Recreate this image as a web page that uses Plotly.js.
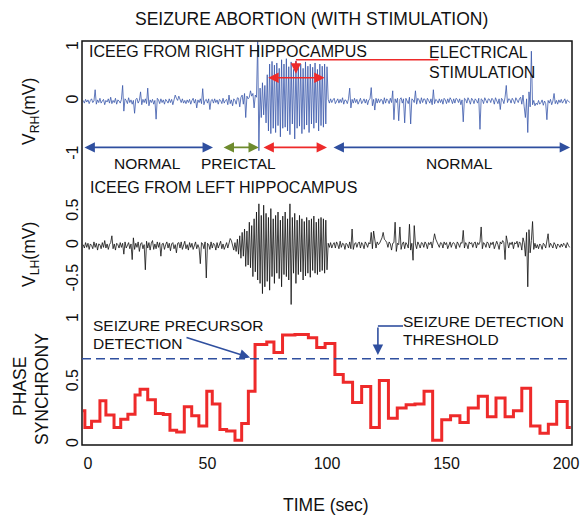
<!DOCTYPE html>
<html><head><meta charset="utf-8">
<script src="https://cdn.plot.ly/plotly-3.0.1.min.js"></script>
<style>html,body{margin:0;padding:0;background:#fff}#chart{width:581px;height:516px}</style>
</head><body><div id="chart"></div>
<script>
// ---- data ----
const sampleStart = -2, sampleStep = 0.5; // seconds
const vRH = [
0.02,-0.03,0.04,-0.01,0.03,-0.04,0.02,0.05,-0.02,0.01,
0.22,-0.05,0.03,-0.02,0.06,-0.03,0.01,0.04,-0.06,0.02,
-0.01,0.05,-0.03,0.08,-0.04,0.02,-0.02,0.06,-0.05,0.03,
0.01,-0.03,0.04,0.3,-0.18,0.05,0.02,-0.04,0.07,-0.02,
0.03,-0.05,0.02,-0.22,0.04,0.06,-0.03,0.02,0.18,-0.06,
0.04,-0.02,0.05,-0.04,0.25,-0.08,0.03,-0.02,0.04,-0.05,
0.02,-0.33,0.06,0.03,-0.04,0.05,-0.02,0.03,-0.05,0.04,
0.01,-0.03,0.05,-0.02,0.04,-0.06,0.03,0.12,0.06,0.02,
0.1,0.04,-0.02,0.05,-0.03,0.02,-0.04,0.03,-0.02,0.04,
-0.05,0.02,0.06,-0.03,0.04,-0.12,0.03,-0.02,0.05,-0.04,
0.24,-0.06,0.02,0.04,-0.03,0.05,-0.15,0.02,0.04,-0.03,
0.05,-0.02,0.03,-0.05,0.04,0.02,-0.04,0.06,-0.03,0.02,
0.04,-0.06,0.12,-0.04,0.03,-0.08,0.05,0.02,-0.05,0.07,
0.06,-0.1,0.08,0.12,-0.05,0.15,-0.3,0.1,0.05,0.08,
0.2,0.1,0.15,-0.12,0.12,0.08,1.12,-0.92,0.25,-0.3,
0.35,-0.25,0.3,-0.4,0.5,-0.55,0.7,-0.6,0.75,-0.5,
0.68,-0.58,0.72,-0.45,0.62,-0.66,0.78,-0.5,0.7,-0.48,
0.8,-0.55,0.65,-0.62,0.74,-0.42,0.6,-0.7,0.76,-0.5,
0.68,-0.46,0.7,-0.6,0.62,-0.52,0.74,-0.44,0.66,-0.58,
0.7,-0.42,0.64,-0.5,0.72,-0.4,0.6,-0.55,0.7,-0.45,
0.66,-0.48,0.7,-0.42,0.65,0.04,-0.03,0.05,-0.02,0.03,
0.06,-0.04,0.02,0.05,-0.03,0.04,-0.02,0.07,-0.05,0.03,
0.02,-0.04,0.05,0.25,-0.12,0.04,-0.03,0.06,-0.02,0.04,
-0.05,0.03,0.06,-0.04,0.02,0.05,-0.03,0.04,-0.06,0.03,
0.05,0.26,-0.08,0.04,-0.16,0.06,-0.03,0.05,-0.02,0.04,
0.03,-0.05,0.07,-0.03,0.05,0.02,-0.04,0.06,-0.02,0.2,
-0.34,0.05,-0.02,0.06,-0.36,0.04,0.07,-0.03,0.05,-0.4,
0.06,0.02,-0.04,0.08,-0.42,0.05,0.03,-0.02,0.2,-0.05,
0.06,0.03,-0.04,0.07,-0.02,0.05,0.04,-0.05,0.06,0.02,
-0.03,0.05,-0.06,0.22,-0.04,0.04,0.02,-0.03,0.05,-0.02,
0.04,-0.05,0.06,0.03,-0.04,0.05,-0.02,0.07,0.03,-0.04,
0.05,-0.03,0.06,0.04,-0.02,0.05,-0.06,0.03,-0.38,0.06,
0.04,-0.03,0.07,0.02,-0.05,0.06,0.03,-0.04,0.05,0.02,
-0.03,0.06,-0.52,0.05,0.03,-0.04,0.07,0.02,-0.03,0.05,
0.04,-0.02,0.06,0.03,-0.05,0.07,0.02,-0.04,0.05,-0.15,
0.06,0.03,-0.04,0.08,0.3,-0.02,0.05,0.04,-0.03,0.06,
0.02,-0.04,0.07,0.03,-0.02,0.05,0.08,-0.05,0.12,-0.1,
-0.3,0.05,-0.58,0.18,-0.1,0.94,-0.06,0.02,-0.08,-0.03,
-0.06,0.02,-0.05,-0.02,0.03,-0.07,0.01,-0.04,-0.34,0.02,
-0.03,0.04,-0.06,0.01,0.15,-0.04,0.02,-0.05,0.03,-0.02,
0.04,-0.03,0.02,0.05,-0.04,0.03,0.01,-0.02
];
const vLH = [
0.02,-0.03,0.05,-0.02,0.04,-0.05,0.03,0.01,-0.04,0.06,
-0.02,0.04,-0.06,0.03,0.02,-0.04,0.05,-0.02,0.08,-0.03,
0.03,-0.05,0.02,0.05,0.15,-0.04,0.03,-0.06,0.04,0.02,
-0.03,0.05,-0.02,0.04,-0.12,0.06,-0.03,0.02,0.05,-0.04,
0.03,-0.2,0.12,-0.05,0.04,-0.02,0.06,-0.08,0.03,0.05,
-0.04,0.02,-0.35,0.07,-0.03,0.05,-0.06,0.04,0.08,-0.05,
0.03,-0.04,0.06,-0.02,0.05,-0.15,0.03,0.04,-0.05,0.02,
0.06,-0.03,0.04,-0.07,0.03,0.05,-0.04,0.02,-0.1,0.04,
0.05,-0.03,0.06,-0.05,0.03,0.07,-0.04,0.02,-0.06,0.05,
-0.02,0.04,-0.05,0.03,0.06,-0.04,0.02,-0.03,-0.26,0.05,
0.03,-0.04,0.06,-0.47,0.04,0.02,-0.05,0.06,-0.03,0.04,
0.02,-0.06,0.05,-0.03,0.04,0.07,-0.04,0.03,-0.05,0.02,
0.05,-0.03,0.04,0.11,0.08,0.02,-0.06,0.05,-0.08,0.1,
-0.12,0.15,-0.18,0.2,-0.15,0.25,-0.3,0.22,-0.28,0.35,
-0.32,0.3,-0.45,0.4,-0.38,0.5,-0.5,0.62,-0.55,0.45,
-0.7,0.6,-0.6,0.48,-0.52,0.42,-0.65,0.55,-0.45,0.4,
-0.55,0.45,-0.4,0.5,-0.48,0.38,-0.6,0.44,-0.42,0.5,
-0.45,0.4,-0.5,0.62,-0.86,0.42,-0.4,0.48,-0.55,0.38,
-0.42,0.45,-0.38,0.4,-0.5,0.36,-0.44,0.42,-0.4,0.38,
-0.46,0.4,-0.36,0.44,-0.4,0.35,-0.42,0.4,-0.38,0.42,
-0.36,0.4,-0.4,0.38,-0.35,0.04,-0.02,0.05,-0.03,0.02,
0.05,-0.03,0.06,0.02,-0.04,0.07,-0.02,0.04,0.03,-0.05,
0.04,0.02,-0.03,0.06,-0.04,0.25,-0.05,0.03,0.05,-0.02,
0.04,0.06,-0.03,0.05,0.02,-0.04,0.06,0.03,-0.02,0.05,
0.03,0.2,-0.04,0.22,0.05,-0.03,0.06,0.02,0.04,0.07,
0.12,0.2,0.1,0.08,0.05,-0.02,0.06,0.03,-0.06,0.04,
0.05,0.35,-0.08,0.04,0.02,0.28,-0.05,0.03,0.06,-0.04,
0.05,0.02,-0.03,0.32,-0.06,0.04,-0.21,0.3,0.03,-0.04,
0.06,0.02,-0.03,0.05,0.04,-0.02,0.06,0.03,-0.04,0.05,
0.02,0.06,-0.03,0.08,0.18,0.1,0.06,0.03,-0.02,0.05,
0.04,-0.03,0.06,0.02,0.05,-0.04,0.03,0.06,-0.02,0.04,
0.05,0.02,-0.04,0.06,0.03,-0.02,0.05,0.04,0.23,-0.03,
0.05,0.02,-0.04,0.06,0.03,0.05,-0.02,0.04,0.06,-0.03,
0.05,0.02,0.06,0.28,-0.04,0.05,0.03,-0.02,0.06,0.04,
-0.03,0.05,0.02,0.06,-0.04,0.04,0.07,0.02,-0.05,0.06,
0.03,0.08,0.05,-0.2,0.15,0.06,-0.03,0.05,0.02,0.06,
-0.04,0.05,0.03,0.07,-0.02,0.06,0.04,-0.06,0.12,0.05,
-0.15,0.2,-0.6,0.24,-0.1,0.08,0.36,-0.05,0.04,-0.03,
0.02,-0.04,0.03,0.01,-0.05,0.04,0.02,-0.03,0.05,0.18,
-0.02,0.04,0.01,-0.03,0.05,0.02,-0.04,0.03,0.01,-0.02,
0.03,-0.01,0.04,0.02,-0.03,0.05,0.01,-0.02
];
// phase synchrony: window start times (s) and values
const psStart = [-2.1,-1.3,1.5,5.0,7.5,10.9,13.7,16.7,19.7,21.8,25.0,28.2,31.5,34.3,37.1,40.3,43.4,46.4,49.7,52.0,55.2,58.0,61.5,64.3,67.1,69.9,74.8,77.8,81.4,86.6,92.2,95.7,99.2,103.3,106.8,110.7,114.5,118.3,121.9,125.7,129.4,133.1,136.8,140.6,144.2,148.0,151.7,155.6,159.1,163.3,167.1,170.7,174.5,178.0,181.5,185.2,189.1,192.6,196.1,200.5];
const psEnd = 202;
const psValue = [0.274,0.14,0.19,0.355,0.24,0.14,0.207,0.247,0.40,0.446,0.363,0.253,0.245,0.118,0.105,0.306,0.234,0.153,0.43,0.328,0.124,0.113,0.038,0.172,0.43,0.804,0.825,0.74,0.879,0.884,0.857,0.78,0.812,0.565,0.503,0.341,0.468,0.14,0.516,0.215,0.296,0.323,0.328,0.43,0.038,0.202,0.234,0.18,0.296,0.39,0.226,0.376,0.226,0.274,0.454,0.153,0.094,0.167,0.349,0.14];
const threshold = 0.69;
const xTicks = [0,50,100,150,200];
const yTopTicks = [-1,0,1], yTopText = ['-1','0','1'];
const yMidTicks = [-0.5,0,0.5], yMidText = ['-0.5','0','0.5'];
const yBotTicks = [0,0.5,1], yBotText = ['0','0.5','1'];
const phases = [
  {label:'NORMAL', from:-2.1, to:52.3, color:'#2f4f9f', mid:24.7},
  {label:'PREICTAL', from:56.1, to:71.5, color:'#6e8b2e', mid:62.8},
  {label:'', from:72.8, to:100, color:'#ee2a2a', mid:86},
  {label:'NORMAL', from:102.1, to:201.7, color:'#2f4f9f', mid:155.6}
];

// ---- build ----
const tRH = vRH.map((_, i) => sampleStart + sampleStep * i);
const tLH = vLH.map((_, i) => sampleStart + sampleStep * i);
const FONT = 'Liberation Sans, Arial, Helvetica, sans-serif';
const BLUE = '#2f4f9f', RED = '#ee2a2a';

const traces = [
  {x: tRH, y: vRH, xaxis:'x', yaxis:'y3', mode:'lines', line:{color:'#3a58ab', width:0.8}, hoverinfo:'skip'},
  {x: tLH, y: vLH, xaxis:'x', yaxis:'y2', mode:'lines', line:{color:'#111', width:0.8}, hoverinfo:'skip'},
  {x: psStart.concat([psEnd]), y: psValue.concat([psValue[psValue.length-1]]), xaxis:'x', yaxis:'y',
   mode:'lines', line:{color:RED, width:3, shape:'hv'}, hoverinfo:'skip'}
];

const W = 490, H = 404, L = 82, T = 41;
const px = v => (v - L) / W;
const py = v => (T + H - v) / H;

const tickFont = {family: FONT, size: 16, color: '#111'};
const yCommon = {showgrid:false, zeroline:false, showline:false, ticks:'', tickangle:-90, tickfont:tickFont, fixedrange:true};

const annotations = [];
function txt(text, x, y, opts) {
  annotations.push(Object.assign({text, x, y, showarrow:false, xanchor:'center', yanchor:'middle',
    font:{family:FONT, size:15.5, color:'#111'}}, opts));
}
function arrow(x, y, ax, ay, yref, color, side) {
  annotations.push({x, y, ax, ay, xref:'x', yref, axref:'x', ayref:yref, text:'', showarrow:true,
    arrowhead:2, arrowsize:1.3, arrowwidth:1.6, arrowcolor:color, arrowside:side, standoff:0, startstandoff:0});
}
const big = {family:FONT, size:17.5, color:'#111'};
const mid = {family:FONT, size:16, color:'#111'};
// titles
txt('SEIZURE ABORTION (WITH STIMULATION)', px(311.5), py(19), {xref:'paper', yref:'paper', font:big});
txt('TIME (sec)', px(326), py(505), {xref:'paper', yref:'paper', font:big});
txt('V<sub>RH</sub>(mV)', px(30), py(112), {xref:'paper', yref:'paper', textangle:-90, font:big});
txt('V<sub>LH</sub>(mV)', px(30), py(255), {xref:'paper', yref:'paper', textangle:-90, font:big});
txt('PHASE', px(20), py(387), {xref:'paper', yref:'paper', textangle:-90, font:big});
txt('SYNCHRONY', px(42), py(389), {xref:'paper', yref:'paper', textangle:-90, font:big});
// panel texts
txt('ICEEG FROM RIGHT HIPPOCAMPUS', px(87), py(51.5), {xref:'paper', yref:'paper', xanchor:'left', font:mid});
txt('ICEEG FROM LEFT HIPPOCAMPUS', px(88), py(187.5), {xref:'paper', yref:'paper', xanchor:'left', font:mid});
txt('ELECTRICAL', px(427), py(52.5), {xref:'paper', yref:'paper', xanchor:'left', font:mid});
txt('STIMULATION', px(427), py(72.5), {xref:'paper', yref:'paper', xanchor:'left', font:mid});
txt('SEIZURE PRECURSOR', px(91), py(325), {xref:'paper', yref:'paper', xanchor:'left'});
txt('DETECTION', px(91), py(343), {xref:'paper', yref:'paper', xanchor:'left'});
txt('SEIZURE DETECTION', px(401), py(321), {xref:'paper', yref:'paper', xanchor:'left'});
txt('THRESHOLD', px(401), py(339), {xref:'paper', yref:'paper', xanchor:'left'});
// phase arrows
phases.forEach(p => {
  arrow(p.to, -0.858, p.from, -0.858, 'y3', p.color, 'end+start');
  if (p.label) txt(p.label, p.mid, -1.16, {xref:'x', yref:'y3'});
});
// stimulation arrows
arrow(99, 0.443, 74.8, 0.443, 'y3', RED, 'end+start');
arrow(87, 0.52, 87, 0.78, 'y3', RED, 'end');
// detection arrows
arrow(67.8, 0.70, 40.6, 0.863, 'y', BLUE, 'end');
arrow(121.3, 0.72, 121.3, 0.952, 'y', BLUE, 'end');

const shapes = [
  {type:'rect', xref:'paper', yref:'paper', x0:0, x1:1, y0:0, y1:1, line:{color:'#111', width:1.5}},
  {type:'line', xref:'paper', yref:'y', x0:0, x1:1, y0:threshold, y1:threshold, line:{color:BLUE, width:1.6, dash:'9px,5px'}},
  {type:'line', xref:'x', yref:'y3', x0:87, x1:146.5, y0:0.78, y1:0.78, line:{color:RED, width:1.6}},
  {type:'line', xref:'x', yref:'y', x0:121.3, x1:131.8, y0:0.952, y1:0.952, line:{color:BLUE, width:1.6}}
];

const layout = {
  width:581, height:516,
  margin:{l:L, r:581-L-W, t:T, b:516-T-H, pad:0},
  paper_bgcolor:'#fff', plot_bgcolor:'#fff',
  showlegend:false,
  font:{family:FONT, color:'#111'},
  xaxis:{range:[-2.5,202.5], tickvals:xTicks, ticktext:xTicks.map(String), showgrid:false, zeroline:false, showline:false,
         ticks:'', tickfont:tickFont, ticklabelstandoff:7, anchor:'y', fixedrange:true},
  yaxis:Object.assign({}, yCommon, {domain:[0, py(300)], range:[0, (445-300)/125], tickvals:yBotTicks, ticktext:yBotText, anchor:'x'}),
  yaxis2:Object.assign({}, yCommon, {domain:[py(310), py(178)], range:[-(310-246)/68, (246-178)/68], tickvals:yMidTicks, ticktext:yMidText, anchor:'x'}),
  yaxis3:Object.assign({}, yCommon, {domain:[py(178), 1], range:[-(178-101.5)/53.5, (101.5-41)/53.5], tickvals:yTopTicks, ticktext:yTopText, anchor:'x'}),
  annotations, shapes
};
Plotly.newPlot('chart', traces, layout, {displayModeBar:false, staticPlot:true});
</script>
</body></html>
